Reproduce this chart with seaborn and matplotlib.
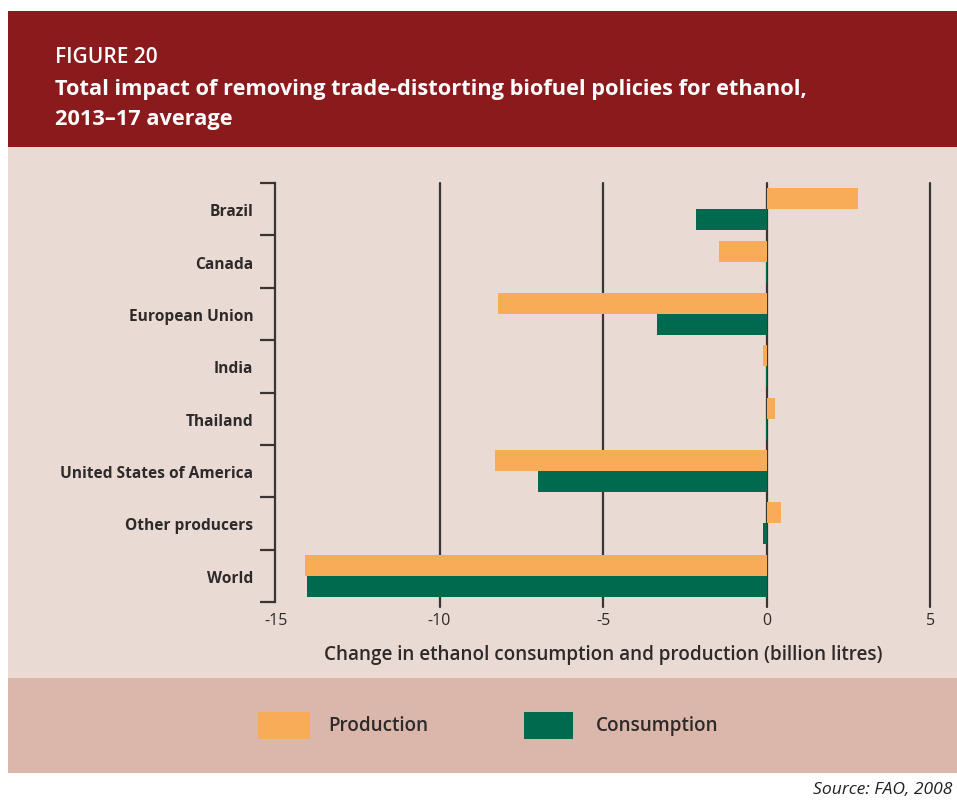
import matplotlib
matplotlib.use("Agg")
import matplotlib.pyplot as plt
from matplotlib.patches import Rectangle
import numpy as np
import pandas as pd
import seaborn as sns

# Change in ethanol output and use after removing trade-distorting policies (billion litres)
regions = ["Brazil", "Canada", "European Union", "India", "Thailand",
           "United States of America", "Other producers", "World"]
production = [2.8, -1.45, -8.2, -0.1, 0.25, -8.3, 0.45, -14.1]
consumption = [-2.15, -0.03, -3.35, -0.03, -0.03, -7.0, -0.1, -14.05]
series_names = ["Production", "Consumption"]
x_ticks = [-15, -10, -5, 0, 5]
x_tick_labels = ["-15", "-10", "-5", "0", "5"]

ORANGE = "#F9AC58"
GREEN = "#006A4E"
BANNER = "#8B1A1D"
PANEL = "#E9DBD4"
LEGEND_BAND = "#DBB6AB"
INK = "#3A3434"
TEXT = "#2E2A2A"

df = pd.DataFrame({
    "region": regions * 2,
    "value": production + consumption,
    "series": [series_names[0]] * len(regions) + [series_names[1]] * len(regions),
})

sns.set_theme(style="white")
plt.rcParams["font.family"] = ["Open Sans", "DejaVu Sans"]
plt.rcParams["axes.unicode_minus"] = False

W, H = 957, 803
fig = plt.figure(figsize=(W / 100, H / 100), dpi=100, facecolor="white")


def px_rect(x0, y0, x1, y1, color):
    fig.add_artist(Rectangle((x0 / W, 1 - y1 / H), (x1 - x0) / W, (y1 - y0) / H,
                             transform=fig.transFigure, facecolor=color,
                             edgecolor="none", zorder=-10))


# Background bands: title banner, chart panel, legend strip
px_rect(8, 12, W, 148, BANNER)
px_rect(8, 148, W, 679, PANEL)
px_rect(8, 679, W, 774, LEGEND_BAND)

# Title block
fig.text(55 / W, 1 - 63 / H, "FIGURE 20", color="white", fontsize=15,
         fontweight="semibold", va="baseline", ha="left")
fig.text(55 / W, 1 - 95 / H,
         "Total impact of removing trade-distorting biofuel policies for ethanol,",
         color="white", fontsize=15.7, fontweight="bold", va="baseline", ha="left")
fig.text(55 / W, 1 - 124.5 / H, "2013\u201317 average", color="white",
         fontsize=15.7, fontweight="bold", va="baseline", ha="left")

# Plot area in pixels
ax_left, ax_right, ax_top, ax_bottom = 275, 946.6, 184, 603
ax = fig.add_axes([ax_left / W, 1 - ax_bottom / H,
                   (ax_right - ax_left) / W, (ax_bottom - ax_top) / H])
ax.set_facecolor("none")

sns.barplot(data=df, x="value", y="region", hue="series", order=regions,
            hue_order=series_names, palette=[ORANGE, GREEN], orient="h",
            width=0.8, errorbar=None, legend=False, linewidth=0,
            saturation=1, ax=ax, zorder=2)

ax.set_xlim(-15.03, 5.5)
ax.set_ylim(len(regions) - 0.5, -0.5)

# Vertical reference lines, running a little below the plot area
for v in x_ticks[1:]:
    ax.axvline(v, ymin=-0.013, ymax=1, color=INK, lw=1.6, zorder=0.5,
               clip_on=False)

for side in ["top", "right", "bottom"]:
    ax.spines[side].set_visible(False)
ax.spines["left"].set_color(INK)
ax.spines["left"].set_linewidth(1.6)

ax.set_xticks(x_ticks)
ax.set_xticklabels(x_tick_labels)
ax.tick_params(axis="x", length=0, pad=7, labelsize=11.5, labelcolor=TEXT)

ax.set_yticks(range(len(regions)))
ax.set_yticklabels(regions, fontweight="bold")
ax.set_yticks(np.arange(-0.5, len(regions), 1.0), minor=True)
ax.tick_params(axis="y", which="major", length=0, pad=15.5, labelsize=11.2,
               labelcolor=TEXT)
ax.tick_params(axis="y", which="minor", length=11, width=1.6, color=INK,
               direction="out", left=True)
ax.set_xlabel("")
ax.set_ylabel("")

fig.text(603.5 / W, 1 - 660.5 / H,
         "Change in ethanol consumption and production (billion litres)",
         color=TEXT, fontsize=13.6, fontweight="semibold", ha="center",
         va="baseline")

# Legend strip
for (x0, x1), colour, label, tx in [((258, 310), ORANGE, series_names[0], 328),
                                    ((524, 573), GREEN, series_names[1], 596)]:
    fig.add_artist(Rectangle((x0 / W, 1 - 740 / H), (x1 - x0) / W, 27 / H,
                             transform=fig.transFigure, facecolor=colour,
                             edgecolor="none"))
    fig.text(tx / W, 1 - 726 / H, label, color=TEXT, fontsize=13.6,
             fontweight="semibold", ha="left", va="center")

fig.text(813 / W, 1 - 794 / H, "Source: FAO, 2008", color="#222222",
         fontsize=12.6, style="italic", ha="left", va="baseline")

fig.savefig("out.png", dpi=100, facecolor="white")
